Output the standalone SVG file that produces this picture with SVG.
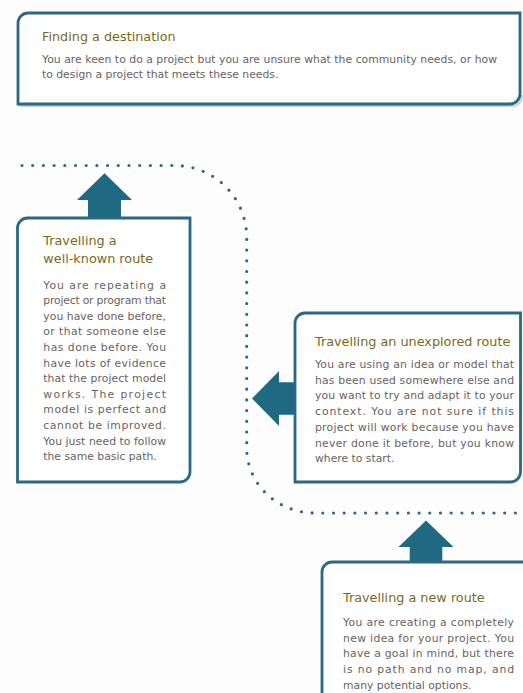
<svg xmlns="http://www.w3.org/2000/svg" width="523" height="693" viewBox="0 0 523 693">
<defs>
<style>
.box{fill:#ffffff;stroke:#2a6883;stroke-width:2.8}
.shadow{fill:none;stroke:#c9cfd2;stroke-width:2}
.title{font-family:"DejaVu Sans",sans-serif;font-size:12.8px;fill:#7a6822}
.body{font-family:"DejaVu Sans",sans-serif;font-size:10.8px;fill:#676262}
.arrow{fill:#1f6a82}
.dots{fill:none;stroke:#2d6884;stroke-width:3.2;stroke-linecap:round;stroke-dasharray:0 10.7}
</style>
</defs>
<rect width="523" height="693" fill="#fdfdfd"/>
<g id="connectors">
<path class="dots" d="M 22 165.5 H 175 A 72 72 0 0 1 246.7 237.5 V 448 A 68 65 0 0 0 314.7 513 H 530"/>
<path id="arrow-wellknown" class="arrow" d="M 104.5 173.3 L 132 200 L 121 200 L 121 219 L 88 219 L 88 200 L 77 200 Z"/>
<path id="arrow-unexplored" class="arrow" d="M 252 398.5 L 279 371 L 279 382.2 L 296 382.2 L 296 414.8 L 279 414.8 L 279 426 Z"/>
<path id="arrow-new" class="arrow" d="M 426 520.5 L 453.5 547 L 442.3 547 L 442.3 563 L 409.7 563 L 409.7 547 L 398.5 547 Z"/>
</g>
<g id="node-destination">
<path class="shadow" d="M 19.5 106 H 511 A 10 10 0 0 0 522 95"/>
<path class="box" d="M 18 23 A 10 10 0 0 1 28 13 H 520 V 94 A 10 10 0 0 1 510 104 H 18 Z"/>
<text class="title" x="42" y="41">Finding a destination</text>
<text class="body" x="42" y="62.5" textLength="455" lengthAdjust="spacing">You are keen to do a project but you are unsure what the community needs, or how</text>
<text class="body" x="42" y="78">to design a project that meets these needs.</text>
</g>
<g id="node-wellknown">
<path class="box" d="M 17.5 228 A 10 10 0 0 1 27.5 218 H 190 V 472 A 10 10 0 0 1 180 482 H 17.5 Z"/>
<text class="title" x="43.3" y="245">Travelling a</text>
<text class="title" x="43.3" y="263">well-known route</text>
<g class="body">
<text x="43.3" y="288.5" textLength="122.7" lengthAdjust="spacing">You are repeating a</text>
<text x="43.3" y="304.1" textLength="122.7" lengthAdjust="spacing">project or program that</text>
<text x="43.3" y="319.7" textLength="122.7" lengthAdjust="spacing">you have done before,</text>
<text x="43.3" y="335.3" textLength="122.7" lengthAdjust="spacing">or that someone else</text>
<text x="43.3" y="350.9" textLength="122.7" lengthAdjust="spacing">has done before. You</text>
<text x="43.3" y="366.5" textLength="122.7" lengthAdjust="spacing">have lots of evidence</text>
<text x="43.3" y="382.1" textLength="122.7" lengthAdjust="spacing">that the project model</text>
<text x="43.3" y="397.7" textLength="122.7" lengthAdjust="spacing">works. The project</text>
<text x="43.3" y="413.3" textLength="122.7" lengthAdjust="spacing">model is perfect and</text>
<text x="43.3" y="428.9" textLength="122.7" lengthAdjust="spacing">cannot be improved.</text>
<text x="43.3" y="444.5" textLength="122.7" lengthAdjust="spacing">You just need to follow</text>
<text x="43.3" y="460.1">the same basic path.</text>
</g>
</g>
<g id="node-unexplored">
<path class="box" d="M 295 323 A 10 10 0 0 1 305 313 H 520.5 V 472 A 10 10 0 0 1 510.5 482 H 295 Z"/>
<text class="title" x="315" y="346">Travelling an unexplored route</text>
<g class="body">
<text x="315" y="368" textLength="199" lengthAdjust="spacing">You are using an idea or model that</text>
<text x="315" y="383.7" textLength="199" lengthAdjust="spacing">has been used somewhere else and</text>
<text x="315" y="399.4" textLength="199" lengthAdjust="spacing">you want to try and adapt it to your</text>
<text x="315" y="415.1" textLength="199" lengthAdjust="spacing">context. You are not sure if this</text>
<text x="315" y="430.8" textLength="199" lengthAdjust="spacing">project will work because you have</text>
<text x="315" y="446.5" textLength="199" lengthAdjust="spacing">never done it before, but you know</text>
<text x="315" y="462.2">where to start.</text>
</g>
</g>
<g id="node-new">
<path class="box" d="M 322 572 A 10 10 0 0 1 332 562 H 530 V 700 H 322 Z"/>
<text class="title" x="343" y="602">Travelling a new route</text>
<g class="body">
<text x="343" y="626" textLength="171" lengthAdjust="spacing">You are creating a completely</text>
<text x="343" y="641.7" textLength="171" lengthAdjust="spacing">new idea for your project. You</text>
<text x="343" y="657.4" textLength="171" lengthAdjust="spacing">have a goal in mind, but there</text>
<text x="343" y="673.1" textLength="171" lengthAdjust="spacing">is no path and no map, and</text>
<text x="343" y="688.8">many potential options.</text>
</g>
</g>
</svg>
